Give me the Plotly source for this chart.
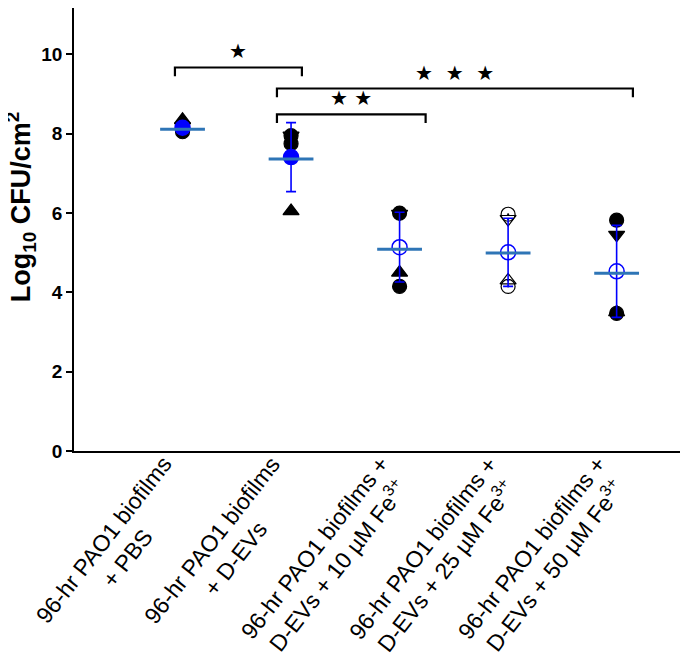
import plotly.graph_objects as go

# groups along the x axis
groups = [
    "96-hr PAO1 biofilms<br>+ PBS",
    "96-hr PAO1 biofilms<br>+ D-EVs",
    "96-hr PAO1 biofilms +<br>D-EVs + 10 µM Fe<sup>3+</sup>",
    "96-hr PAO1 biofilms +<br>D-EVs + 25 µM Fe<sup>3+</sup>",
    "96-hr PAO1 biofilms +<br>D-EVs + 50 µM Fe<sup>3+</sup>",
]
y_title = "<b>Log<sub>10</sub> CFU/cm<sup>2</sup></b>"

# individual replicates (log10 CFU/cm2), one list per group
rep_pbs = [8.05, 8.15, 8.35, 8.18]
rep_devs = [7.95, 7.75, 6.05, 7.95]
rep_fe10 = [6.00, 4.15, 4.50, 5.98]
rep_fe25 = [5.97, 4.15, 4.30, 5.85]
rep_fe50 = [5.82, 3.47, 3.50, 5.45]
replicates = [rep_pbs, rep_devs, rep_fe10, rep_fe25, rep_fe50]
rep_symbols = ["circle", "circle", "triangle-up", "triangle-down"]
open_groups = [3]  # replicates drawn hollow

# summary per group
means = [8.15, 7.41, 5.14, 5.01, 4.53]
sds = [0.10, 0.87, 0.88, 0.86, 1.16]
medians = [8.11, 7.36, 5.09, 4.99, 4.48]
mean_filled = [True, True, False, False, False]

# significance brackets: (x from, x to, height, label)
brackets = [
    (-0.07, 1.10, 9.67, "★"),
    (0.87, 4.15, 9.14, "★  ★  ★"),
    (0.87, 2.24, 8.49, "★ ★"),
]

xs = list(range(len(groups)))
fig = go.Figure()

# black replicate points
for i, vals in enumerate(replicates):
    syms = [s + "-open-dot" if i in open_groups else s for s in rep_symbols]
    fig.add_trace(go.Scatter(
        x=[i] * len(vals), y=vals, mode="markers",
        marker=dict(symbol=syms, size=14, color="black",
                    line=dict(color="black", width=1.2)),
        showlegend=False, hoverinfo="y",
    ))

# mean +/- SD in blue
fig.add_trace(go.Scatter(
    x=xs, y=means, mode="markers",
    marker=dict(symbol=["circle" if f else "circle-open" for f in mean_filled],
                size=15, color="#0000ff", line=dict(color="#0000ff", width=1.5)),
    error_y=dict(type="data", array=sds, color="#0000ff", thickness=1.6, width=5),
    showlegend=False,
))

# median line
fig.add_trace(go.Scatter(
    x=xs, y=medians, mode="markers",
    marker=dict(symbol="line-ew", size=32, line=dict(color="#2e75b6", width=3)),
    showlegend=False,
))

# brackets and stars
for x0, x1, h, lab in brackets:
    fig.add_trace(go.Scatter(
        x=[x0, x0, x1, x1], y=[h - 0.22, h, h, h - 0.22], mode="lines",
        line=dict(color="black", width=2.2), showlegend=False, hoverinfo="skip",
    ))
    fig.add_annotation(
        x=(x0 + x1) / 2, y=h, text=lab, showarrow=False, yanchor="bottom", yshift=2,
        font=dict(family="DejaVu Sans", size=20, color="black"),
    )

# rotated category labels, lines centred
for i, g in enumerate(groups):
    fig.add_annotation(
        x=i, y=0, xref="x", yref="paper", text=g, showarrow=False,
        textangle=-52, align="center", xanchor="right", yanchor="top",
        xshift=21, yshift=2,
        font=dict(family="Liberation Sans, Arial", size=23, color="black"),
    )

# y axis title
fig.add_annotation(
    x=0, y=0.55, xref="paper", yref="paper", text=y_title, showarrow=False,
    textangle=-90, xanchor="right", yanchor="middle", xshift=-32,
    font=dict(family="Liberation Sans, Arial", size=27, color="black"),
)

# page body adds 8px around the figure, so the figure is 8px smaller
fig.update_layout(
    width=680, height=660,
    margin=dict(l=66, r=3, t=0, b=217),
    paper_bgcolor="white", plot_bgcolor="white",
    font=dict(family="Liberation Sans, Arial", color="black"),
    xaxis=dict(
        range=[-1.0, 4.63], showticklabels=False, ticks="", showgrid=False,
        zeroline=False, showline=True, linecolor="black", linewidth=1.5,
        automargin=False,
    ),
    yaxis=dict(
        range=[0, 11.17], tickvals=[0, 2, 4, 6, 8, 10], ticks="outside",
        ticklen=6, tickwidth=1.5, tickcolor="black", showgrid=False, zeroline=False,
        showline=True, linecolor="black", linewidth=1.5, automargin=False,
        tickfont=dict(size=19, family="Liberation Sans, Arial", weight="bold"),
    ),
)

fig.write_html("out.html")
